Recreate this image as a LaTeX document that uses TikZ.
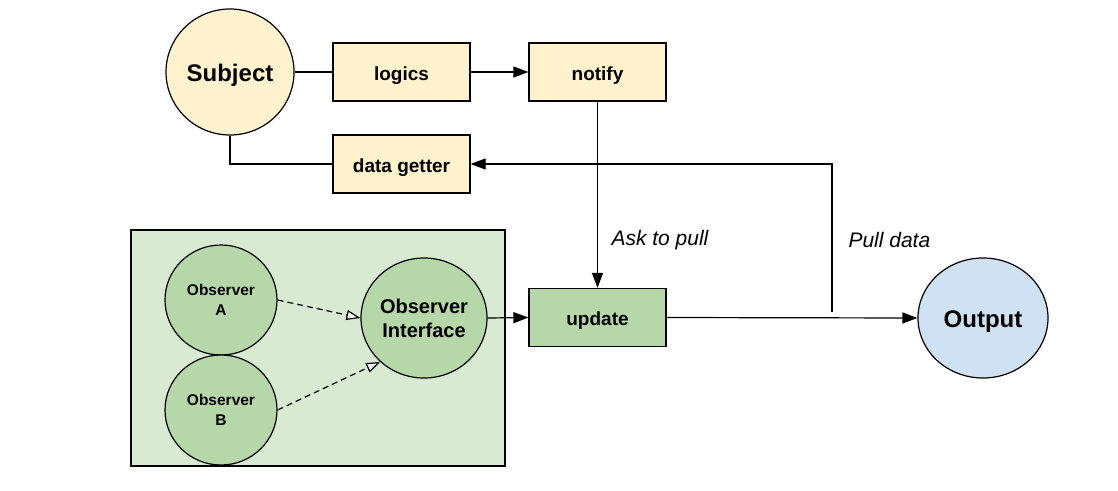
\documentclass[tikz,border=0pt]{standalone}
\usepackage{fontspec}
\setmainfont{Liberation Sans}
\usetikzlibrary{arrows.meta,shapes.geometric}
\definecolor{yel}{HTML}{FFF2CC}
\definecolor{grn}{HTML}{B6D7A8}
\definecolor{grnbg}{HTML}{D9EAD3}
\definecolor{blu}{HTML}{CFE2F3}
\tikzset{
  every node/.style={font=\bfseries},
  ybox/.style={draw, line width=1.2pt, fill=yel, minimum width=137pt, minimum height=58pt, inner sep=0pt, text height=16.5pt, text depth=0pt, font=\fontsize{19}{22}\selectfont\bfseries},
  gbox/.style={ybox, fill=grn},
  circ/.style={draw, ellipse, line width=1.2pt, inner sep=0pt, align=center},
  bigcirc/.style={circ, text height=18pt, text depth=0pt, font=\fontsize{24}{28}\selectfont\bfseries},
  conn/.style={line width=1.2pt},
  arr/.style={conn, -{Triangle[length=15pt,width=11pt]}},
  darr/.style={line width=1.2pt, dash pattern=on 6pt off 4pt, -{Triangle[open,fill=white,length=14pt,width=10pt]}},
  lab/.style={font=\fontsize{21}{24}\selectfont\itshape, anchor=west}
}
\begin{document}
\begin{tikzpicture}[x=1pt,y=-1pt]
\path[use as bounding box] (0,0) rectangle (1118,490);
% container
\node[draw, line width=1.2pt, fill=grnbg, minimum width=374pt, minimum height=236pt, inner sep=0pt] (cont) at (318,348) {};
% top nodes
\node[bigcirc, fill=yel, minimum width=128pt, minimum height=126pt] (subj) at (230,72) {Subject};
\node[ybox] (logics) at (401.5,72) {logics};
\node[ybox] (notify) at (597.5,72) {notify};
\node[ybox] (dg) at (401.5,164) {data getter};
\node[gbox] (upd) at (597.5,317.5) {update};
\node[bigcirc, fill=blu, minimum width=130pt, minimum height=120pt] (out) at (983,318) {Output};
% observers
\node[circ, fill=grn, minimum width=112pt, minimum height=110pt, font=\fontsize{15.5}{20}\selectfont\bfseries] (oa) at (221,300) {Observer\\A};
\node[circ, fill=grn, minimum width=112pt, minimum height=110pt, font=\fontsize{15.5}{20}\selectfont\bfseries] (ob) at (221,410) {Observer\\B};
\node[circ, fill=grn, minimum width=126pt, minimum height=120pt, font=\fontsize{20}{24}\selectfont\bfseries] (oi) at (424,318) {Observer\\Interface};
% connectors
\draw[conn] (subj.east) -- (logics.west);
\draw[arr] (logics.east) -- (notify.west);
\draw[conn] (subj.south) |- (dg.west);
\draw[arr] (notify.south) -- (upd.north);
\draw[arr] (oi.east) -- (upd.west);
\draw[arr] (upd.east) -- (out.west);
\coordinate (pd) at (832,312);
\draw[arr] (pd) |- (dg.east);
\draw[darr] (oa.east) -- (oi.west);
\draw[darr] (ob.east) -- (oi.225);
% labels
\node[lab] (l1) at (608,240) {Ask to pull};
\node[lab] (l2) at (845,240) {Pull data};
\end{tikzpicture}
\end{document}
